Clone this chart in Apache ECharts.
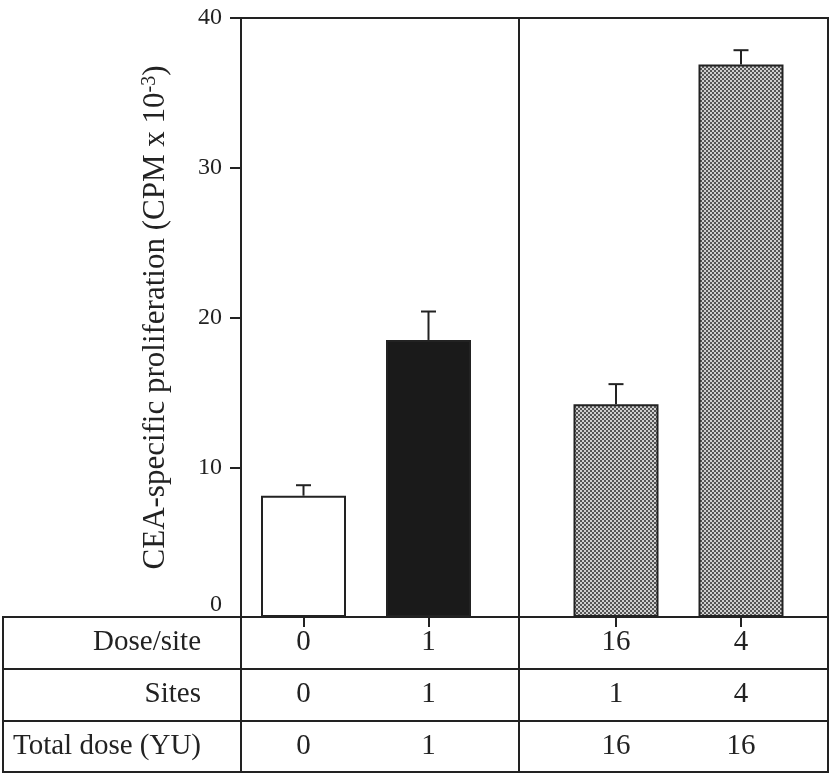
<!DOCTYPE html>
<html>
<head>
<meta charset="utf-8">
<script src="https://cdn.jsdelivr.net/npm/echarts@6/dist/echarts.min.js"></script>
<style>html,body{margin:0;padding:0;background:#fff;}#c{width:830px;height:774px;}</style>
</head>
<body>
<div id="c"></div>
<script>
// ---- data ----
const groupX = [0, 1, 2.5, 3.5];            // group positions on the x scale
const proliferation = [8.1, 18.5, 14.2, 36.9];
const errorUp = [0.7, 1.9, 1.35, 0.95];
const rowLabels = ['Dose/site', 'Sites', 'Total dose (YU)'];
const doseSite = ['0', '1', '16', '4'];
const sites = ['0', '1', '1', '4'];
const totalDose = ['0', '1', '16', '16'];
const yTicks = [0, 10, 20, 30, 40];

// ---- styles ----
const INK = '#222';
const FONT = 'Liberation Serif, Times New Roman, serif';
function checker() {
  const c = document.createElement('canvas');
  c.width = 4; c.height = 4;
  const g = c.getContext('2d');
  g.fillStyle = '#cfcfcf'; g.fillRect(0, 0, 4, 4);
  g.fillStyle = '#555555';
  g.fillRect(0, 0, 2, 2); g.fillRect(2, 2, 2, 2);
  return c;
}
const pattern = { image: checker(), repeat: 'repeat' };
const fills = ['#ffffff', '#1a1a1a', pattern, pattern];

const X_MIN = -0.5, X_MAX = 4.196, X_TABLE_MIN = -2.404, DIVIDER = 1.716;

const tableRows = [doseSite, sites, totalDose];
const tableData = [];
const tableText = [];
tableRows.forEach((row, r) => row.forEach((t, i) => { tableData.push([groupX[i], r]); tableText.push(t); }));

const chart = echarts.init(document.getElementById('c'), null, { renderer: 'canvas' });
const option = {
  animation: false,
  backgroundColor: '#fff',
  grid: [
    { left: 241, right: 2, top: 18, bottom: 157, show: true, borderColor: INK, borderWidth: 2, backgroundColor: 'transparent' },
    { left: 3, right: 2, top: 617, bottom: 2, show: true, borderColor: INK, borderWidth: 2, backgroundColor: 'transparent' }
  ],
  xAxis: [
    { type: 'value', gridIndex: 0, min: X_MIN, max: X_MAX,
      axisLine: { show: false, onZero: false }, splitLine: { show: false }, axisLabel: { show: false },
      axisTick: { show: true, customValues: groupX, inside: false, length: 10, lineStyle: { color: INK, width: 2 } } },
    { type: 'value', gridIndex: 1, min: X_TABLE_MIN, max: X_MAX, show: false, splitLine: { show: false } }
  ],
  yAxis: [
    { type: 'value', gridIndex: 0, min: 0, max: 40, interval: 10, position: 'left',
      axisLine: { show: true, onZero: false, lineStyle: { color: INK, width: 2 } },
      axisTick: { show: true, length: 11, lineStyle: { color: INK, width: 2 } },
      splitLine: { show: false },
      axisLabel: { margin: 19, color: INK, fontFamily: FONT, fontSize: 24,
        formatter: v => v === 0 ? '{z|0}' : String(v),
        rich: { z: { fontFamily: FONT, fontSize: 24, color: INK, padding: [0, 0, 25, 0] } } },
      name: '{a|CEA-specific proliferation (CPM x 10}{s|-3}{a|)}',
      nameLocation: 'middle', nameGap: 70, nameRotate: 90,
      nameTextStyle: { color: INK, fontFamily: FONT, fontSize: 31,
        rich: { a: { fontFamily: FONT, fontSize: 31, color: INK },
                s: { fontFamily: FONT, fontSize: 20, color: INK, verticalAlign: 'top', lineHeight: 31 } } } },
    { type: 'category', gridIndex: 1, data: rowLabels, inverse: true,
      axisLine: { show: false, onZero: false }, axisTick: { show: false },
      splitLine: { show: true, lineStyle: { color: INK, width: 2 } },
      axisLabel: { inside: true, align: 'right', margin: 198, color: INK, fontFamily: FONT, fontSize: 29 } }
  ],
  series: [
    { type: 'bar', xAxisIndex: 0, yAxisIndex: 0, barWidth: 85,
      data: groupX.map((x, i) => ({ value: [x, proliferation[i]], itemStyle: { color: fills[i] } })),
      itemStyle: { borderColor: INK, borderWidth: 2 },
      markLine: { silent: true, symbol: 'none', label: { show: false },
        lineStyle: { color: INK, width: 2, type: 'solid' },
        data: [{ xAxis: DIVIDER }] } },
    { type: 'custom', xAxisIndex: 0, yAxisIndex: 0, z: 5,
      data: groupX.map((x, i) => [x, proliferation[i], errorUp[i]]),
      renderItem: function (params, api) {
        const x = api.value(0), v = api.value(1), e = api.value(2);
        const p0 = api.coord([x, v]);
        const p1 = api.coord([x, v + e]);
        const st = { stroke: INK, lineWidth: 2 };
        return { type: 'group', children: [
          { type: 'line', shape: { x1: p0[0], y1: p0[1], x2: p1[0], y2: p1[1] }, style: st },
          { type: 'line', shape: { x1: p1[0] - 7.5, y1: p1[1], x2: p1[0] + 7.5, y2: p1[1] }, style: st }
        ] };
      } },
    { type: 'custom', xAxisIndex: 1, yAxisIndex: 1, z: 5,
      data: tableData,
      renderItem: function (params, api) {
        const p = api.coord([api.value(0), api.value(1)]);
        return { type: 'text', x: p[0], y: p[1],
          style: { text: tableText[params.dataIndex], fill: INK, font: '29px ' + FONT, align: 'center', verticalAlign: 'middle' } };
      },
      markLine: { silent: true, symbol: 'none', label: { show: false },
        lineStyle: { color: INK, width: 2, type: 'solid' },
        data: [{ xAxis: X_MIN }, { xAxis: DIVIDER }] } }
  ]
};
chart.setOption(option);
</script>
</body>
</html>
